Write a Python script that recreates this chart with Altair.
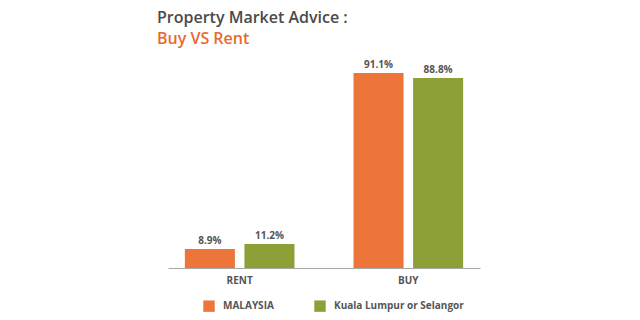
import altair as alt
import pandas as pd

categories = ["RENT", "RENT", "BUY", "BUY"]
series = ["MALAYSIA", "Kuala Lumpur or Selangor", "MALAYSIA", "Kuala Lumpur or Selangor"]
values = [8.9, 11.2, 91.1, 88.8]

series_order = ["MALAYSIA", "Kuala Lumpur or Selangor"]
cat_order = ["RENT", "BUY"]
colors = ["#ED7539", "#8BA138"]

df = pd.DataFrame({"cat": categories, "series": series, "value": values})
df["label"] = df["value"].map(lambda v: f"{v:.1f}%")

FONT = "Open Sans"
GRAY = "#555555"

x_enc = alt.X("cat:N", sort=cat_order,
              scale=alt.Scale(paddingInner=0.35, paddingOuter=0.1),
              axis=alt.Axis(title=None, labelAngle=0, ticks=False, domainColor="#a8a8a8",
                            labelFont=FONT, labelFontWeight="bold", labelFontSize=10,
                            labelColor=GRAY, labelPadding=7))
xoff = alt.XOffset("series:N", sort=series_order, scale=alt.Scale(paddingInner=0.16))
y_enc = alt.Y("value:Q", scale=alt.Scale(domain=[0, 100]), axis=None)

bars = alt.Chart(df).mark_bar().encode(
    x=x_enc, xOffset=xoff, y=y_enc,
    color=alt.Color("series:N", sort=series_order,
                    scale=alt.Scale(domain=series_order, range=colors),
                    legend=alt.Legend(title=None, orient="none", direction="horizontal",
                                      legendX=35, legendY=30 + 214 + 2,
                                      symbolType="square", symbolSize=130,
                                      symbolStrokeWidth=0, symbolOpacity=1,
                                      labelFont=FONT, labelFontWeight="bold",
                                      labelFontSize=10, labelColor=GRAY,
                                      columnPadding=40, labelOffset=8)),
)

text = alt.Chart(df).mark_text(dy=-8, font=FONT, fontWeight="bold", fontSize=10, color=GRAY).encode(
    x=alt.X("cat:N", sort=cat_order), xOffset=alt.XOffset("series:N", sort=series_order),
    y="value:Q", text="label:N")

chart = alt.layer(bars, text).properties(
    width=312, height=214,
    autosize=alt.AutoSizeParams(type="none"),
    padding={"left": 168, "top": 54, "right": 160, "bottom": 52},
    view=alt.ViewBackground(stroke="transparent", strokeWidth=0),
    title=alt.TitleParams("Property Market Advice :", subtitle="Buy VS Rent",
                          anchor="start", dx=-11, offset=7,
                          font=FONT, fontSize=16, fontWeight=600, color="#4a4a4a",
                          subtitleFont=FONT, subtitleFontSize=16, subtitleFontWeight=600,
                          subtitleColor="#E8692E", subtitlePadding=5),
).configure_view(stroke="transparent", strokeWidth=0).configure(background="white")

chart.save("out.html", embed_options={"renderer": "svg", "actions": False})
